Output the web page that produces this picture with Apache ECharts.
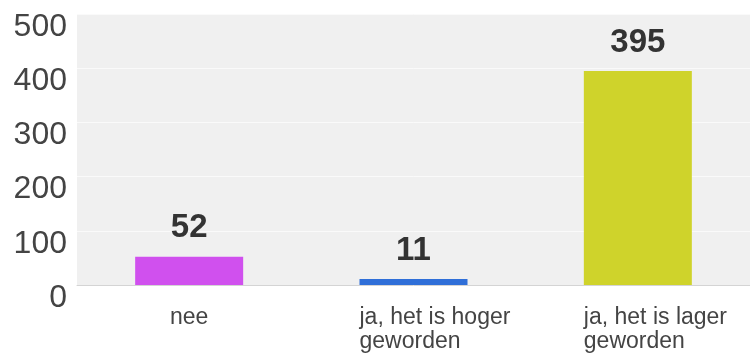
<!DOCTYPE html>
<html>
<head>
<meta charset="utf-8">
<script src="https://cdn.jsdelivr.net/npm/echarts@6/dist/echarts.min.js"></script>
<style>
  html, body { margin: 0; padding: 0; background: #fff; }
  #main { width: 750px; height: 354px; }
</style>
</head>
<body>
<div id="main"></div>
<script>
// data
var categories = ['nee', 'ja, het is hoger\ngeworden', 'ja, het is lager\ngeworden'];
var counts = [52, 11, 395];
var barColors = ['#d050ee', '#2f6fd8', '#cfd32b'];
var yTicks = [0, 100, 200, 300, 400, 500];

var chart = echarts.init(document.getElementById('main'));

chart.setOption({
  animation: false,
  textStyle: { fontFamily: 'Liberation Sans, Arial, sans-serif' },
  grid: {
    left: 77, right: -6, top: 14, bottom: 69,
    show: true, backgroundColor: '#f0f0f0', borderWidth: 0
  },
  xAxis: {
    type: 'category',
    data: categories,
    axisTick: { show: false },
    axisLine: { lineStyle: { color: '#d4d4d4', width: 1 } },
    axisLabel: {
      interval: 0,
      hideOverlap: false,
      color: '#444',
      fontSize: 23,
      margin: 21,
      verticalAlign: 'top',
      lineHeight: 24,
      formatter: function (v) {
        if (v.indexOf('\n') < 0) return v;
        // multi-line labels start at the bar's left edge
        return v.split('\n').map(function (s) { return '{l|' + s + '}'; }).join('\n');
      },
      rich: {
        l: { width: 108, align: 'left', fontSize: 23, lineHeight: 24, color: '#444' }
      }
    }
  },
  yAxis: {
    type: 'value',
    min: yTicks[0],
    max: yTicks[yTicks.length - 1],
    interval: 100,
    axisLine: { show: false },
    axisTick: { show: false },
    splitLine: { lineStyle: { color: '#fafafa', width: 1 } },
    axisLabel: {
      color: '#444',
      fontSize: 32,
      lineHeight: 26,
      verticalAlign: 'top',
      margin: 10
    }
  },
  series: [{
    type: 'bar',
    barWidth: 108,
    data: counts.map(function (v, i) {
      return { value: v, itemStyle: { color: barColors[i] } };
    }),
    label: {
      show: true,
      position: 'top',
      distance: 12,
      color: '#333',
      fontSize: 33,
      fontWeight: 'bold'
    }
  }]
});
</script>
</body>
</html>
